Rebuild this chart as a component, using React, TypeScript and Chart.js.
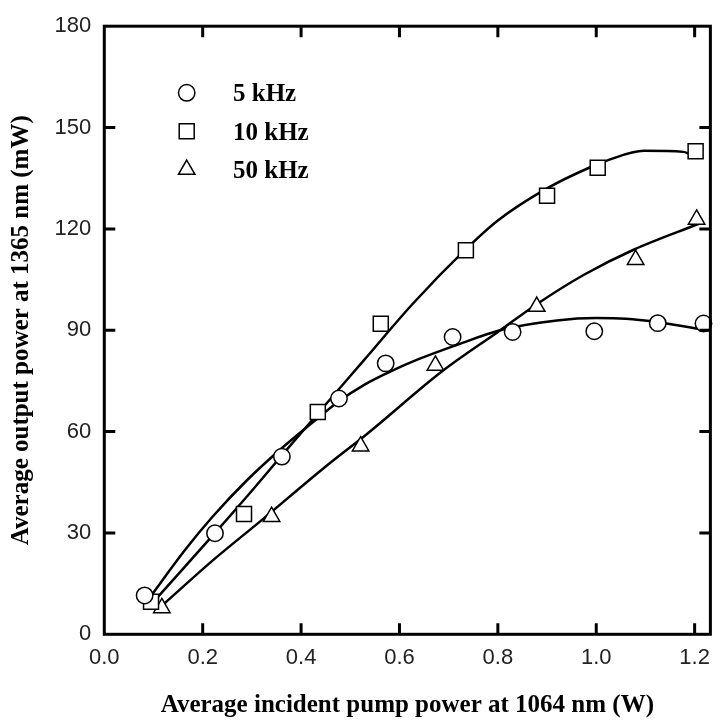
import React, { useEffect, useRef } from 'react';
import { Chart, registerables } from 'chart.js';
import { drawPoint } from 'chart.js/helpers';

Chart.register(...registerables);

// ---- axis ticks ----
const xTicks = [0, 0.2, 0.4, 0.6, 0.8, 1.0, 1.2];
const yTicks = [0, 30, 60, 90, 120, 150, 180];

// ---- series labels ----
const seriesLabels = ['5 kHz', '10 kHz', '50 kHz'];
const seriesStyles = ['circle', 'rect', 'triangle'];

// ---- measured points ----
const x5 = [0.082, 0.225, 0.361, 0.477, 0.572, 0.708, 0.83, 0.996, 1.125, 1.218];
const y5 = [11.5, 29.9, 52.6, 69.8, 80.2, 88.0, 89.5, 89.7, 92.1, 92.0];

const x10 = [0.095, 0.284, 0.434, 0.562, 0.735, 0.9, 1.003, 1.202];
const y10 = [9.6, 35.6, 65.8, 91.9, 113.7, 129.8, 138.1, 143.0];

const x50 = [0.117, 0.34, 0.521, 0.673, 0.879, 1.08, 1.204];
const y50 = [7.8, 34.8, 55.7, 79.6, 97.0, 110.9, 122.8];

// ---- fitted curves ----
const fitX5 = [0.098, 0.162, 0.22, 0.29, 0.36, 0.42, 0.477, 0.53, 0.58, 0.64, 0.71, 0.81, 0.92, 1.0, 1.06, 1.12, 1.224];
const fitY5 = [12.0, 24.6, 34.8, 45.6, 55.0, 62.3, 69.0, 74.0, 77.7, 81.5, 85.3, 90.2, 92.9, 93.6, 93.4, 92.5, 90.0];

const fitX10 = [0.109, 0.225, 0.3, 0.36, 0.435, 0.527, 0.628, 0.735, 0.8, 0.9, 0.99, 1.023, 1.097, 1.177, 1.19];
const fitY10 = [11.1, 30.0, 42.5, 52.8, 65.5, 81.0, 98.0, 114.0, 122.5, 132.0, 138.4, 140.3, 143.1, 142.8, 142.2];

const fitX50 = [0.122, 0.22, 0.32, 0.447, 0.534, 0.688, 0.8, 0.882, 0.976, 1.077, 1.21];
const fitY50 = [9.1, 21.8, 33.8, 49.3, 59.3, 78.0, 89.5, 98.0, 106.5, 113.9, 121.6];

const pts = (xs: number[], ys: number[]) => xs.map((x, i) => ({ x, y: ys[i] }));

const framePlugin = {
  id: 'frameTicksLegend',
  afterDatasetsDraw(chart: any) {
    const { ctx, chartArea: a, scales } = chart;
    const xs = scales.x;
    const ys = scales.y;
    ctx.save();
    ctx.strokeStyle = '#000';
    ctx.lineWidth = 3;
    ctx.strokeRect(a.left, a.top, a.right - a.left, a.bottom - a.top);
    const L = 11;
    ctx.beginPath();
    xTicks.forEach((v) => {
      const p = xs.getPixelForValue(v);
      if (p <= a.left + 1 || p >= a.right - 1) return;
      ctx.moveTo(p, a.bottom);
      ctx.lineTo(p, a.bottom - L);
      ctx.moveTo(p, a.top);
      ctx.lineTo(p, a.top + L);
    });
    yTicks.forEach((v) => {
      const p = ys.getPixelForValue(v);
      if (p >= a.bottom - 1 || p <= a.top + 1) return;
      ctx.moveTo(a.left, p);
      ctx.lineTo(a.left + L, p);
      ctx.moveTo(a.right, p);
      ctx.lineTo(a.right - L, p);
    });
    ctx.stroke();

    // legend
    const radii = [8.2, 10.6, 9.5];
    const mx = a.left + 82.4;
    const tx = a.left + 128.7;
    ctx.font = 'bold 25px "Liberation Serif", "Times New Roman", serif';
    ctx.textAlign = 'left';
    ctx.textBaseline = 'alphabetic';
    seriesLabels.forEach((lab, i) => {
      const my = a.top + 66.6 + i * 38.4;
      ctx.fillStyle = '#fff';
      ctx.strokeStyle = '#000';
      ctx.lineWidth = 1.5;
      drawPoint(ctx, { pointStyle: seriesStyles[i], radius: radii[i], borderWidth: 1.5, rotation: 0 } as any, mx, my);
      ctx.fillStyle = '#000';
      ctx.fillText(lab, tx, my + 8.4);
    });
    ctx.restore();
  },
};

export default function App() {
  const ref = useRef<HTMLCanvasElement | null>(null);
  useEffect(() => {
    if (!ref.current) return;
    const markerBase = {
      showLine: false,
      pointBackgroundColor: '#fff',
      pointBorderColor: '#000',
      pointBorderWidth: 1.5,
      clip: false as any,
      order: 0,
    };
    const lineBase = {
      showLine: true,
      pointRadius: 0,
      borderColor: '#000',
      borderWidth: 2.5,
      cubicInterpolationMode: 'monotone' as const,
      fill: false,
      order: 1,
    };
    const chart = new Chart(ref.current, {
      type: 'scatter',
      data: {
        datasets: [
          { ...markerBase, label: seriesLabels[0], data: pts(x5, y5), pointStyle: 'circle', pointRadius: 8.2 },
          { ...markerBase, label: seriesLabels[1], data: pts(x10, y10), pointStyle: 'rect', pointRadius: 10.6 },
          { ...markerBase, label: seriesLabels[2], data: pts(x50, y50), pointStyle: 'triangle', pointRadius: 9.5 },
          { ...lineBase, label: seriesLabels[0] + ' fit', data: pts(fitX5, fitY5) },
          { ...lineBase, label: seriesLabels[1] + ' fit', data: pts(fitX10, fitY10) },
          { ...lineBase, label: seriesLabels[2] + ' fit', data: pts(fitX50, fitY50) },
        ] as any,
      },
      options: {
        responsive: false,
        animation: false,
        devicePixelRatio: 1,
        layout: { padding: { top: 21.7, right: 2.7, bottom: 0, left: 0 }, autoPadding: false } as any,
        plugins: { legend: { display: false }, tooltip: { enabled: false } },
        events: [],
        scales: {
          x: {
            type: 'linear',
            min: 0,
            max: 1.232,
            afterBuildTicks: (s: any) => {
              s.ticks = xTicks.map((v) => ({ value: v }));
            },
            ticks: {
              callback: (v: any) => Number(v).toFixed(1),
              font: { family: '"Liberation Sans", Arial, sans-serif', size: 22 },
              color: '#222',
              padding: 10,
              maxRotation: 0,
              autoSkip: false,
            },
            grid: { display: false, drawTicks: false },
            border: { display: false },
            title: {
              display: true,
              text: 'Average incident pump power at 1064 nm (W)',
              color: '#000',
              font: { family: '"Liberation Serif", "Times New Roman", serif', size: 25, weight: 'bold', lineHeight: 1 },
              padding: { top: 0, bottom: 1.5 },
            },
            afterFit: (s: any) => {
              s.height = 85.7;
            },
          },
          y: {
            type: 'linear',
            min: 0,
            max: 180,
            afterBuildTicks: (s: any) => {
              s.ticks = yTicks.map((v) => ({ value: v }));
            },
            ticks: {
              callback: (v: any) => String(v),
              font: { family: '"Liberation Sans", Arial, sans-serif', size: 22 },
              color: '#222',
              padding: 13,
              autoSkip: false,
            },
            grid: { display: false, drawTicks: false },
            border: { display: false },
            title: {
              display: true,
              text: 'Average output power at 1365 nm (mW)',
              color: '#000',
              font: { family: '"Liberation Serif", "Times New Roman", serif', size: 25, weight: 'bold', lineHeight: 1 },
              padding: { top: 9.5, bottom: 0 },
            },
            afterFit: (s: any) => {
              s.width = 104.3;
            },
          },
        },
      } as any,
      plugins: [framePlugin],
    });
    return () => chart.destroy();
  }, []);
  return (
    <div style={{ position: 'fixed', left: 0, top: 0, width: 720, height: 720, background: '#fff' }}>
      <canvas ref={ref} width={720} height={720} style={{ width: 720, height: 720, display: 'block' }} />
    </div>
  );
}
